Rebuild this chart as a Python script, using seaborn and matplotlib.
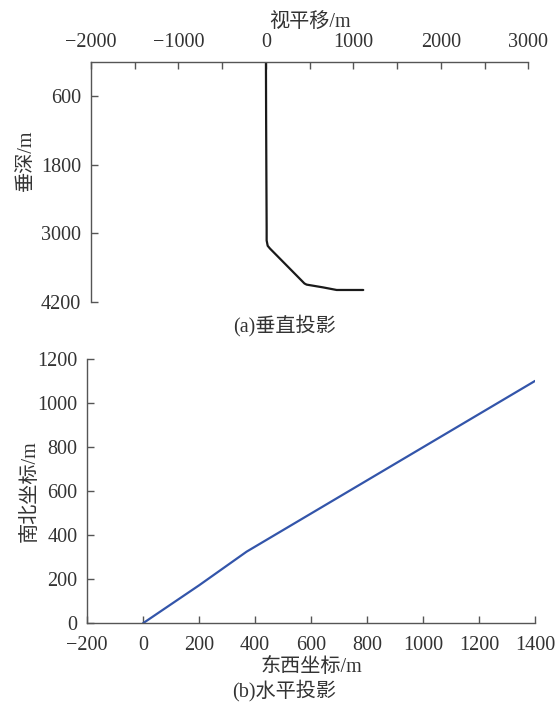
import matplotlib
matplotlib.use("Agg")
import matplotlib.pyplot as plt
import seaborn as sns
import pandas as pd

# vertical projection (horizontal displacement vs. vertical depth)
disp_m = [0, 2, 5, 8, 8, 20, 46, 408, 440, 465, 651, 808, 1112]
depth_m = [0, 1000, 2000, 2900, 3127, 3220, 3268, 3830, 3880, 3900, 3948, 3994, 3994]

# horizontal projection (east-west vs. north-south)
east_m = [0, 200, 370, 1400]
north_m = [0, 172, 325, 1100]

top_xticks = list(range(-2000, 3001, 500))
top_yticks = [600, 1800, 3000, 4200]
bot_xticks = list(range(-200, 1401, 200))
bot_yticks = list(range(0, 1201, 200))

sns.set_theme(style="white")
plt.rcParams["font.family"] = ["Liberation Serif", "Noto Sans CJK SC"]
plt.rcParams["axes.unicode_minus"] = True
plt.rcParams["xtick.direction"] = "in"
plt.rcParams["ytick.direction"] = "in"

spine_c = "#555555"
text_c = "#333333"
fs = 14.5


def lab(t):
    return str(t).replace("-", "\u2212")


fig = plt.figure(figsize=(5.58, 7.05), dpi=100)

# -------------------- (a) vertical projection --------------------
ax1 = fig.add_axes([0.163, 0.572, 0.784, 0.340])
df1 = pd.DataFrame({"disp": disp_m, "depth": depth_m})
sns.lineplot(data=df1, x="disp", y="depth", sort=False, estimator=None,
             color="#1a1a1a", linewidth=1.6, ax=ax1)
ax1.set_xlim(-2000, 3000)
ax1.set_ylim(4200, 0)
ax1.xaxis.tick_top()
ax1.xaxis.set_label_position("top")
ax1.set_xticks(top_xticks)
ax1.set_xticklabels([lab(t) if t % 1000 == 0 else "" for t in top_xticks])
ax1.set_yticks(top_yticks)
ax1.set_xlabel("视平移/m", fontsize=fs, color=text_c, labelpad=4)
ax1.set_ylabel("垂深/m", fontsize=fs, color=text_c)
ax1.yaxis.set_label_coords(-0.125, 0.59)
for s in ["right", "bottom"]:
    ax1.spines[s].set_visible(False)
for s in ["left", "top"]:
    ax1.spines[s].set_color(spine_c)
    ax1.spines[s].set_linewidth(1.0)
ax1.tick_params(axis="both", direction="in", length=5, width=1.0,
                color=spine_c, labelsize=fs, labelcolor=text_c, pad=7)
ax1.tick_params(axis="x", top=True, bottom=False)
ax1.tick_params(axis="y", left=True)
fig.text(0.51, 0.538, "(a)垂直投影", ha="center", va="center",
         fontsize=fs, color=text_c)

# -------------------- (b) horizontal projection --------------------
ax2 = fig.add_axes([0.156, 0.116, 0.803, 0.375])
df2 = pd.DataFrame({"east": east_m, "north": north_m})
sns.lineplot(data=df2, x="east", y="north", sort=False, estimator=None,
             color="#3355aa", linewidth=1.6, ax=ax2)
ax2.set_xlim(-200, 1400)
ax2.set_ylim(0, 1200)
ax2.set_xticks(bot_xticks)
ax2.set_xticklabels([lab(t) for t in bot_xticks])
ax2.set_yticks(bot_yticks)
ax2.set_xlabel("东西坐标/m", fontsize=fs, color=text_c, labelpad=2)
ax2.set_ylabel("南北坐标/m", fontsize=fs, color=text_c)
ax2.yaxis.set_label_coords(-0.105, 0.5)
for s in ["right", "top"]:
    ax2.spines[s].set_visible(False)
for s in ["left", "bottom"]:
    ax2.spines[s].set_color(spine_c)
    ax2.spines[s].set_linewidth(1.0)
ax2.tick_params(axis="both", direction="in", length=5, width=1.0,
                color=spine_c, labelsize=fs, labelcolor=text_c, pad=7)
ax2.tick_params(axis="x", bottom=True, pad=9)
ax2.tick_params(axis="y", left=True)
fig.text(0.51, 0.021, "(b)水平投影", ha="center", va="center",
         fontsize=fs, color=text_c)

fig.savefig("out.png", dpi=100)
